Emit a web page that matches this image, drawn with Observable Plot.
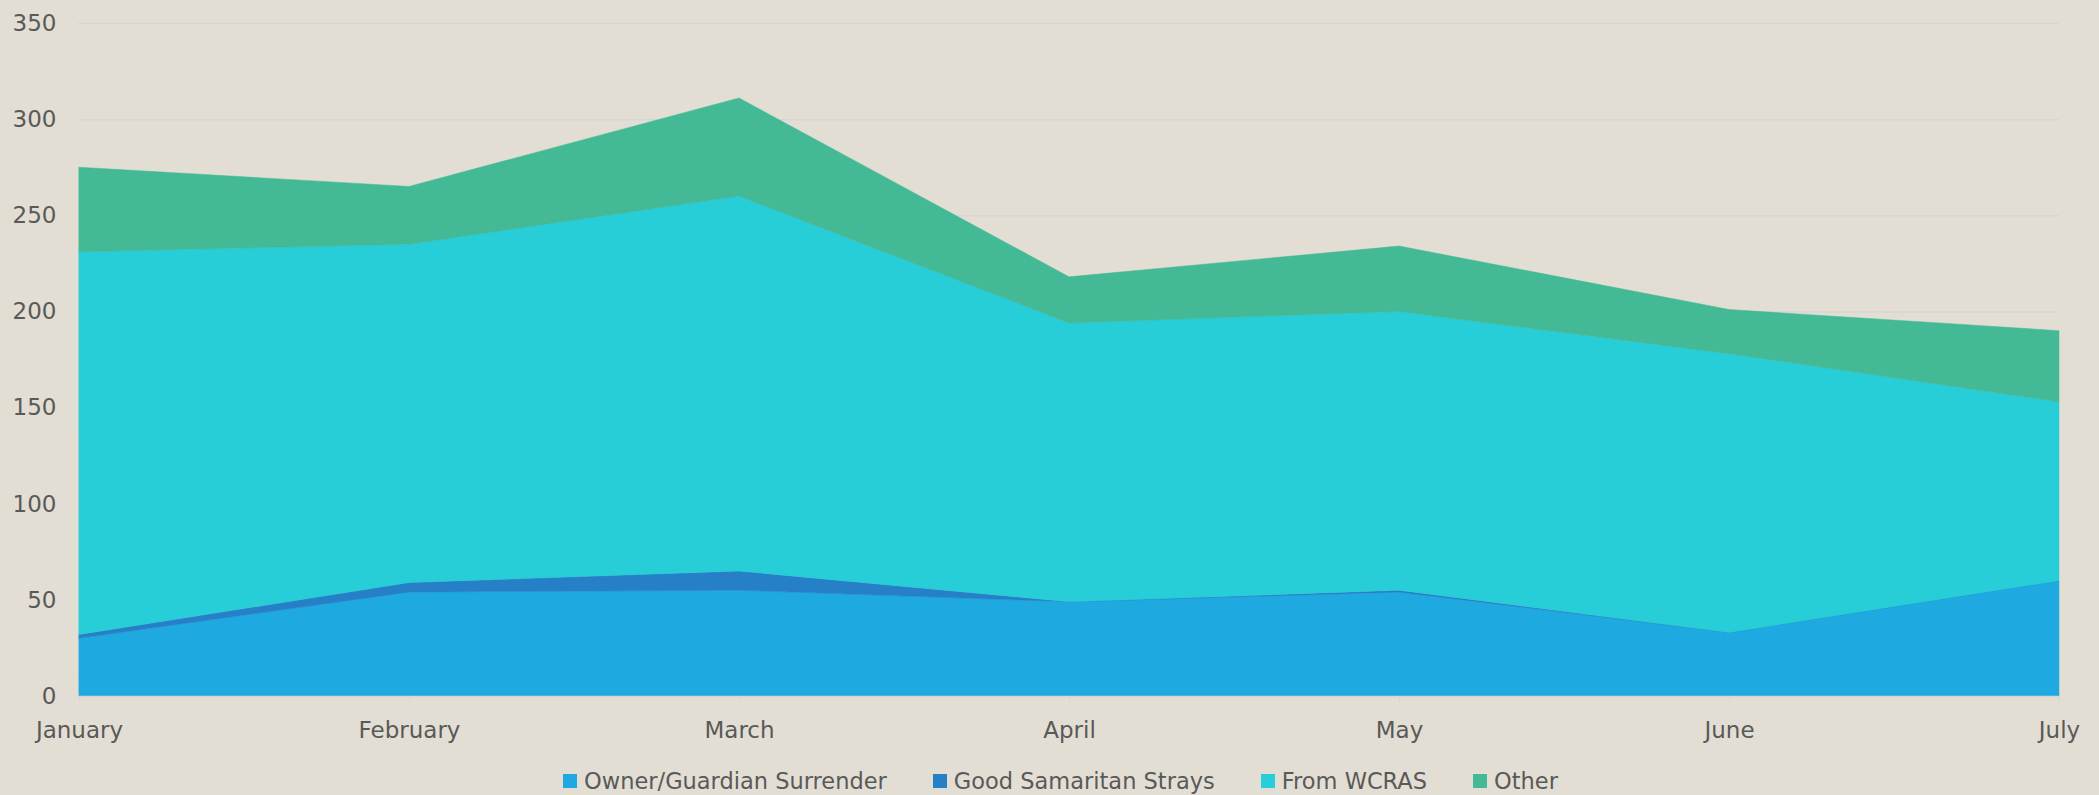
<!DOCTYPE html>
<html>
<head>
<meta charset="utf-8">
<script src="https://cdn.jsdelivr.net/npm/d3@7"></script>
<script src="https://cdn.jsdelivr.net/npm/@observablehq/plot@0.6"></script>
<style>
  html, body { margin: 0; padding: 0; background: #E3DED3; }
  body { width: 2099px; height: 795px; overflow: hidden; font-family: "DejaVu Sans", sans-serif; }
  #legend { display: flex; justify-content: center; gap: 46px; margin-top: 13px; padding-left: 22px; font-size: 22.5px; color: #595959; line-height: 26px; }
  #legend .item { display: flex; align-items: center; }
  #legend .sw { width: 14px; height: 14px; margin-right: 7px; display: inline-block; }
</style>
</head>
<body>
<div id="chart"></div>
<div id="legend"></div>
<script>
const months = ["January", "February", "March", "April", "May", "June", "July"];
const seriesNames = ["Owner/Guardian Surrender", "Good Samaritan Strays", "From WCRAS", "Other"];
const ownerSurrender = [30, 54, 55, 49, 54, 33, 60];
const samaritanStrays = [2, 5, 10, 0, 1, 0, 0];
const fromWCRAS = [199, 176, 195, 145, 145, 145, 93];
const other = [44, 30, 51, 24, 34, 23, 37];
const colors = ["#1EAAE1", "#2680C8", "#27CDD7", "#43B995"];
const yTicks = [0, 50, 100, 150, 200, 250, 300, 350];

const seriesValues = [ownerSurrender, samaritanStrays, fromWCRAS, other];
const data = [];
seriesNames.forEach((s, si) => months.forEach((m, mi) => data.push({series: s, month: m, value: seriesValues[si][mi]})));

const chart = Plot.plot({
  width: 2099,
  height: 755,
  marginTop: 23,
  marginBottom: 59,
  marginLeft: 78,
  marginRight: 40,
  style: {background: "transparent", fontFamily: "DejaVu Sans, sans-serif", fontSize: "23px", color: "#595959"},
  x: {type: "point", domain: months, padding: 0, label: null},
  y: {domain: [0, 350], label: null},
  color: {domain: seriesNames, range: colors},
  marks: [
    Plot.gridY(yTicks.filter(d => d > 0), {stroke: "#D6D6D4", strokeOpacity: 1, strokeWidth: 1.5}),
    Plot.areaY(data, {x: "month", y: "value", fill: "series", z: "series", order: seriesNames, stroke: "series", strokeWidth: 0.5}),
    Plot.ruleY([0], {stroke: "#D6D6D4", strokeWidth: 1.5}),
    Plot.axisY({ticks: yTicks, tickSize: 0, tickPadding: 22, fill: "#595959", fontSize: 23, label: null}),
    Plot.axisX({tickSize: 6, stroke: "#D6D6D4", tickPadding: 19, fill: "#595959", fontSize: 23, label: null})
  ]
});
document.getElementById("chart").appendChild(chart);

const legend = document.getElementById("legend");
seriesNames.forEach((s, i) => {
  const it = document.createElement("div");
  it.className = "item";
  const sw = document.createElement("span");
  sw.className = "sw";
  sw.style.background = colors[i];
  it.appendChild(sw);
  it.appendChild(document.createTextNode(s));
  legend.appendChild(it);
});
</script>
</body>
</html>
